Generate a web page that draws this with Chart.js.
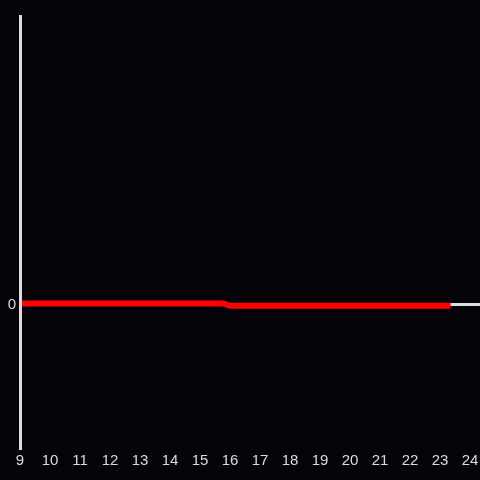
<!DOCTYPE html>
<html>
<head>
<meta charset="utf-8">
<script src="https://cdn.jsdelivr.net/npm/chart.js@4/dist/chart.umd.min.js"></script>
<style>
  html, body { margin: 0; padding: 0; background: #050308; }
  #wrap { width: 480px; height: 480px; }
</style>
</head>
<body>
<div id="wrap"><canvas id="c" width="480" height="480"></canvas></div>
<script>
const hours = [9, 15.75, 16, 23.35];
const values = [0.2, 0.2, -0.6, -0.6];
const xTicks = [9, 10, 11, 12, 13, 14, 15, 16, 17, 18, 19, 20, 21, 22, 23, 24];
const yTicks = [0];

const points = hours.map((h, i) => ({ x: h, y: values[i] }));

function zeroPad(s) {
  s.paddingLeft = 0; s.paddingRight = 0; s.paddingTop = 0; s.paddingBottom = 0;
}

new Chart(document.getElementById('c'), {
  type: 'line',
  data: {
    datasets: [{
      data: points,
      borderColor: '#ff0000',
      borderWidth: 6,
      pointRadius: 0,
      cubicInterpolationMode: 'monotone',
      fill: false
    }]
  },
  options: {
    responsive: false,
    animation: false,
    layout: { padding: { top: 16, right: 0, left: 0, bottom: 0 } },
    plugins: { legend: { display: false }, tooltip: { enabled: false } },
    scales: {
      x: {
        type: 'linear',
        min: 9,
        max: 24.3333,
        afterBuildTicks: (s) => { s.ticks = xTicks.map(v => ({ value: v })); },
        afterFit: (s) => { s.height = 32; zeroPad(s); },
        grid: { display: false, drawTicks: false },
        border: { display: false },
        ticks: {
          color: '#dcdcdc',
          font: { family: 'Liberation Sans', size: 15 },
          padding: 4,
          maxRotation: 0,
          autoSkip: false
        }
      },
      y: {
        min: -50,
        max: 100,
        afterBuildTicks: (s) => { s.ticks = yTicks.map(v => ({ value: v })); },
        afterFit: (s) => { s.width = 20; zeroPad(s); },
        grid: { color: '#dcdcdc', lineWidth: 3, drawTicks: false },
        border: { display: true, color: '#dcdcdc', width: 3, z: 1 },
        ticks: {
          color: '#dcdcdc',
          font: { family: 'Liberation Sans', size: 15 },
          padding: 4,
          labelOffset: 1
        }
      }
    }
  }
});
</script>
</body>
</html>
